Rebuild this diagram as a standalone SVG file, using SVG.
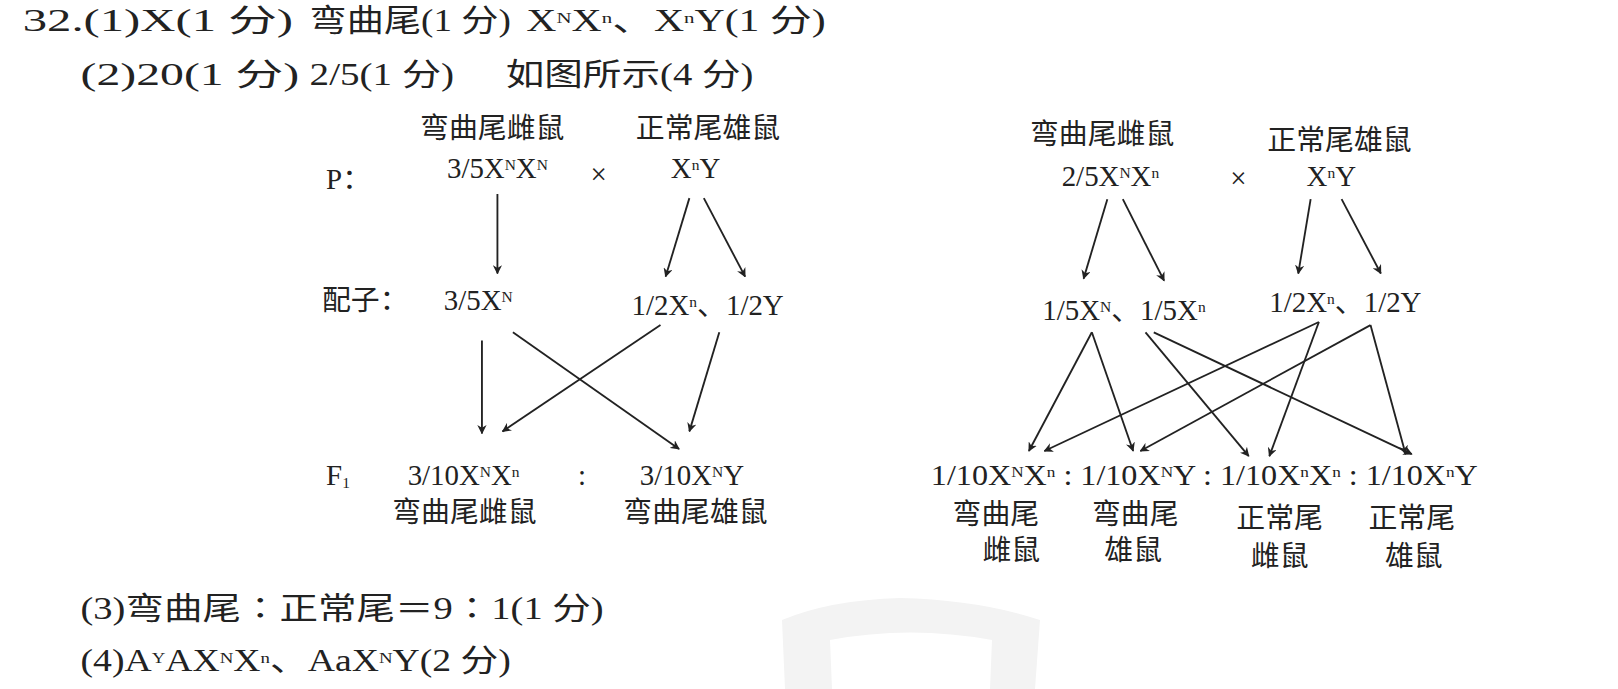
<svg xmlns="http://www.w3.org/2000/svg" width="1618" height="689" viewBox="0 0 1618 689">
<style>
text{font-family:"Liberation Serif","Noto Sans CJK SC",serif;font-size:28px;fill:#222}
.h{font-size:30px}
.s{font-size:15px;baseline-shift:55%}
.b{font-size:15px;baseline-shift:-20%}
.m{text-anchor:middle}
line{stroke:#222;stroke-width:1.8;marker-end:url(#a)}
</style>
<defs><marker id="a" viewBox="0 0 10 10" refX="9" refY="5" markerWidth="9" markerHeight="9" markerUnits="userSpaceOnUse" orient="auto"><path d="M0,0L10,5L0,10L3,5z" fill="#222"/></marker></defs>
<path d="M785,689 L782,620 Q830,600 900,598 Q980,600 1040,620 L1035,689 L990,689 L992,640 Q910,625 830,640 L832,689Z" fill="#f3f3f3"/>
<g transform="scale(1.032)">
<g id="header">
<text class="h" x="22" y="30" textLength="262" lengthAdjust="spacingAndGlyphs">32.(1)X(1 分)</text>
<text class="h" x="300" y="30" textLength="195" lengthAdjust="spacingAndGlyphs">弯曲尾(1 分)</text>
<text class="h" x="510" y="30" textLength="290" lengthAdjust="spacingAndGlyphs">X<tspan class="s">N</tspan>X<tspan class="s">n</tspan>、X<tspan class="s">n</tspan>Y(1 分)</text>
<text class="h" x="78" y="82" textLength="212" lengthAdjust="spacingAndGlyphs">(2)20(1 分)</text>
<text class="h" x="300" y="82" textLength="140" lengthAdjust="spacingAndGlyphs">2/5(1 分)</text>
<text class="h" x="490" y="82" textLength="240" lengthAdjust="spacingAndGlyphs">如图所示(4 分)</text>
</g>
<g id="left">
<text class="m" x="477" y="134">弯曲尾雌鼠</text>
<text class="m" x="686" y="134">正常尾雄鼠</text>
<text x="316" y="183">P：</text>
<text class="m" x="482" y="172">3/5X<tspan class="s">N</tspan>X<tspan class="s">N</tspan></text>
<text class="m" x="580" y="178">×</text>
<text class="m" x="674" y="172">X<tspan class="s">n</tspan>Y</text>
<text x="312" y="300">配子：</text>
<text x="430" y="300">3/5X<tspan class="s">N</tspan></text>
<text x="612" y="305">1/2X<tspan class="s">n</tspan>、1/2Y</text>
<text x="316" y="470">F<tspan class="b">1</tspan></text>
<text x="395" y="470">3/10X<tspan class="s">N</tspan>X<tspan class="s">n</tspan></text>
<text x="560" y="470">:</text>
<text x="620" y="470">3/10X<tspan class="s">N</tspan>Y</text>
<text x="380" y="506">弯曲尾雌鼠</text>
<text x="604" y="506">弯曲尾雄鼠</text>
</g>
<g id="right">
<text class="m" x="1068" y="140">弯曲尾雌鼠</text>
<text class="m" x="1298" y="145">正常尾雄鼠</text>
<text class="m" x="1076" y="180">2/5X<tspan class="s">N</tspan>X<tspan class="s">n</tspan></text>
<text class="m" x="1200" y="182">×</text>
<text class="m" x="1290" y="180">X<tspan class="s">n</tspan>Y</text>
<text x="1010" y="310">1/5X<tspan class="s">N</tspan>、1/5X<tspan class="s">n</tspan></text>
<text x="1230" y="302">1/2X<tspan class="s">n</tspan>、1/2Y</text>
<text x="902" y="470" textLength="530" lengthAdjust="spacingAndGlyphs">1/10X<tspan class="s">N</tspan>X<tspan class="s">n</tspan> : 1/10X<tspan class="s">N</tspan>Y : 1/10X<tspan class="s">n</tspan>X<tspan class="s">n</tspan> : 1/10X<tspan class="s">n</tspan>Y</text>
<text class="m" x="965" y="508">弯曲尾</text><text class="m" x="980" y="543">雌鼠</text>
<text class="m" x="1100" y="508">弯曲尾</text><text class="m" x="1098" y="543">雄鼠</text>
<text class="m" x="1240" y="512">正常尾</text><text class="m" x="1240" y="548">雌鼠</text>
<text class="m" x="1368" y="512">正常尾</text><text class="m" x="1370" y="548">雄鼠</text>
</g>
<g id="footer">
<text class="h" x="78" y="600" textLength="507" lengthAdjust="spacingAndGlyphs">(3)弯曲尾∶正常尾＝9∶1(1 分)</text>
<text class="h" x="78" y="650" textLength="417" lengthAdjust="spacingAndGlyphs">(4)A<tspan class="s">Y</tspan>AX<tspan class="s">N</tspan>X<tspan class="s">n</tspan>、AaX<tspan class="s">N</tspan>Y(2 分)</text>
</g>
<g id="connectors">
<line x1="482" y1="188" x2="482" y2="265"/>
<line x1="668" y1="192" x2="645" y2="268"/>
<line x1="682" y1="192" x2="722" y2="268"/>
<line x1="467" y1="330" x2="467" y2="420"/>
<line x1="497" y1="322" x2="658" y2="435"/>
<line x1="640" y1="315" x2="487" y2="418"/>
<line x1="697" y1="322" x2="668" y2="418"/>
<line x1="1073" y1="193" x2="1050" y2="270"/>
<line x1="1088" y1="193" x2="1128" y2="272"/>
<line x1="1270" y1="193" x2="1258" y2="265"/>
<line x1="1300" y1="193" x2="1338" y2="265"/>
<line x1="1058" y1="322" x2="997" y2="437"/>
<line x1="1058" y1="322" x2="1098" y2="437"/>
<line x1="1110" y1="322" x2="1210" y2="442"/>
<line x1="1118" y1="322" x2="1368" y2="440"/>
<line x1="1278" y1="312" x2="1012" y2="437"/>
<line x1="1278" y1="312" x2="1230" y2="442"/>
<line x1="1328" y1="315" x2="1105" y2="437"/>
<line x1="1328" y1="315" x2="1362" y2="440"/>
</g>
</g>
</svg>
